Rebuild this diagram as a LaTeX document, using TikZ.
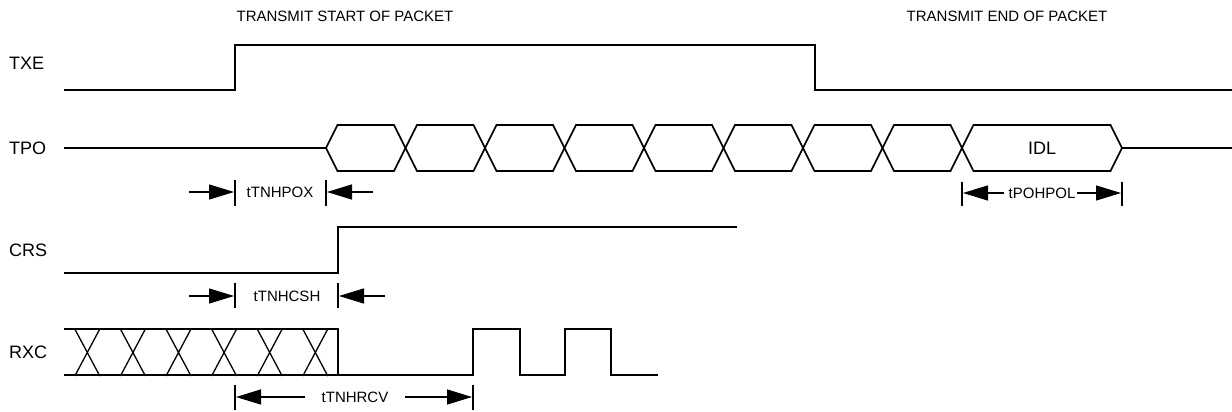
\documentclass[tikz,border=0pt]{standalone}
\usepackage{fontspec}
\setmainfont{Liberation Sans}
\usetikzlibrary{arrows.meta}

\begin{document}
\begin{tikzpicture}[x=1pt,y=-1pt]
	\tikzset{sig/.style={line width=1.6pt,line join=miter}}
	\tikzset{bar/.style={line width=1.3pt}}
	\tikzset{dim/.style={line width=1.3pt,-{Triangle[length=25pt,width=15pt]}}}
	\tikzset{signame/.style={anchor=west,font=\fontsize{18}{18}\selectfont,inner sep=0pt}}
	\tikzset{tlab/.style={font=\fontsize{15}{15}\selectfont,inner sep=1pt}}
	\useasboundingbox (0,0) rectangle (1232,412);
	% titles
	\node[tlab] (start) at (345,16) {TRANSMIT START OF PACKET};
	\node[tlab] (stop) at (1007,16) {TRANSMIT END OF PACKET};
	% signal names
	\node[signame] (txe) at (9,63) {TXE};
	\node[signame] (tpo) at (9,148) {TPO};
	\node[signame] (crs) at (9,250) {CRS};
	\node[signame] (rxc) at (9,352) {RXC};
	% TXE
	\draw[sig] (64,90) -- (235,90) -- (235,45) -- (815,45) -- (815,90) -- (1232,90);
	% TPO
	\draw[sig] (64,148) -- (326,148);
	\foreach \i in {0,...,7}
		\draw[sig] ({326+79.5*\i},148) -- ++(11.5,-23) -- ({326+79.5*(\i+1)-11.5},125)
			-- ({326+79.5*(\i+1)},148) -- ++(-11.5,23) -- ({326+79.5*\i+11.5},171) -- cycle;
	\draw[sig] (962,148) -- (973.5,125) -- (1110.5,125) -- (1122,148) -- (1110.5,171) -- (973.5,171) -- cycle;
	\node[font=\fontsize{18}{18}\selectfont] (idl) at (1042,148) {IDL};
	\draw[sig] (1122,148) -- (1232,148);
	% tTNHPOX
	\node[tlab] (tpox) at (280,192) {tTNHPOX};
	\draw[bar] (235,180) -- (235,206) (326,180) -- (326,206);
	\draw[dim] (189,192) -- (234,192);
	\draw[dim] (373,192) -- (327,192);
	% CRS
	\draw[sig] (64,273) -- (338,273) -- (338,227) -- (737,227);
	% tTNHCSH
	\node[tlab] (tcsh) at (287,296) {tTNHCSH};
	\draw[bar] (235,283) -- (235,308) (338,283) -- (338,308);
	\draw[dim] (189,296) -- (234,296);
	\draw[dim] (385,296) -- (339,296);
	% RXC
	\draw[sig] (64,329) -- (338,329) -- (338,375);
	\draw[sig] (64,375) -- (473,375) -- (473,329) -- (520,329) -- (520,375) -- (565,375)
		-- (565,329) -- (611,329) -- (611,375) -- (658,375);
	\foreach \c in {87.3,132.9,178.5,224.1,269.7,315.3}
		\draw[bar] (\c-12.5,329) -- (\c+12.5,376) (\c+12.5,329) -- (\c-12.5,376);
	% tTNHRCV
	\node[tlab] (trcv) at (355,397) {tTNHRCV};
	\draw[bar] (235,385) -- (235,410) (473,385) -- (473,410);
	\draw[dim] (305,397) -- (236,397);
	\draw[dim] (405,397) -- (472,397);
	% tPOHPOL
	\node[tlab] (tpol) at (1042,193) {tPOHPOL};
	\draw[bar] (962,182) -- (962,206) (1122,182) -- (1122,206);
	\draw[dim] (1004,193) -- (963,193);
	\draw[dim] (1077,193) -- (1121,193);
\end{tikzpicture}
\end{document}
